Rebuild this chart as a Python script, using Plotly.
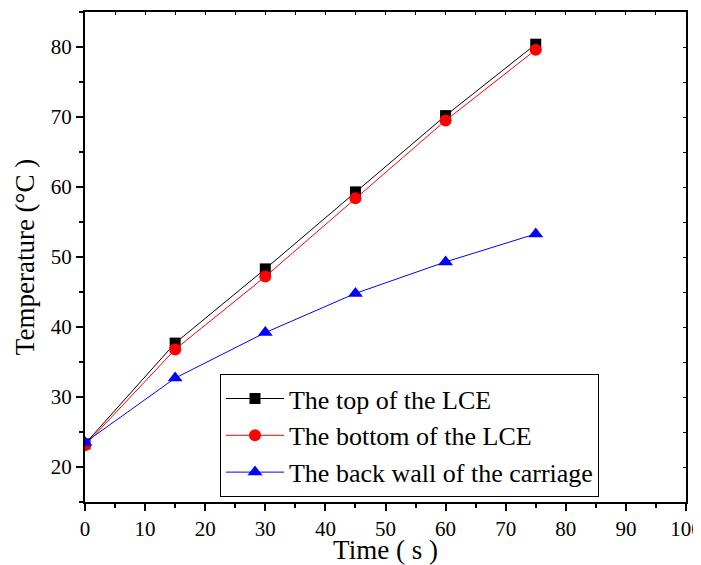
import plotly.graph_objects as go

time_s = [0, 15, 30, 45, 60, 75]
top_lce = [23.3, 37.7, 48.3, 59.3, 70.2, 80.4]
bottom_lce = [23.1, 36.8, 47.2, 58.4, 69.5, 79.6]
back_wall = [23.5, 32.7, 39.2, 44.8, 49.3, 53.3]
names = ["The top of the LCE", "The bottom of the LCE", "The back wall of the carriage"]

FONT = "Liberation Serif"

fig = go.Figure()
fig.add_trace(go.Scatter(x=time_s, y=top_lce, name=names[0], mode="lines+markers",
                         line=dict(color="black", width=1),
                         marker=dict(symbol="square", size=11, color="black")))
fig.add_trace(go.Scatter(x=time_s, y=bottom_lce, name=names[1], mode="lines+markers",
                         line=dict(color="red", width=1),
                         marker=dict(symbol="circle", size=12, color="red")))
fig.add_trace(go.Scatter(x=time_s, y=back_wall, name=names[2], mode="lines+markers",
                         line=dict(color="blue", width=1),
                         marker=dict(symbol="triangle-up", size=13, color="blue")))
fig.add_trace(go.Scatter(x=[None], y=[None], xaxis="x2", yaxis="y2", showlegend=False, hoverinfo="skip"))

# page body has an 8px margin, so the figure is sized to fill the rest of the window
fig.update_layout(
    width=693, height=557,
    margin=dict(l=77, r=15, t=4, b=63, autoexpand=False),
    paper_bgcolor="white", plot_bgcolor="white",
    font=dict(family=FONT, color="black", size=21),
    legend=dict(x=0.2246, y=0.261, xanchor="left", yanchor="top",
                bgcolor="white", bordercolor="black", borderwidth=1,
                font=dict(family=FONT, size=26, color="black"),
                tracegroupgap=0, itemwidth=58),
    showlegend=True,
    xaxis=dict(
        range=[0, 100], tick0=0, dtick=10, automargin=False, ticklabeloverflow="allow",
        showgrid=False, zeroline=False, showline=True, linecolor="black", linewidth=2,
        ticks="outside", ticklen=7, tickwidth=2, tickcolor="black",
        tickfont=dict(family=FONT, size=21, color="black"),
        minor=dict(dtick=5, ticks="outside", ticklen=4, tickwidth=2, tickcolor="black"),
        title=dict(text="Time ( s )", font=dict(family=FONT, size=27, color="black"), standoff=3),
    ),
    yaxis=dict(
        range=[15, 85], tick0=0, dtick=10, automargin=False,
        showgrid=False, zeroline=False, showline=True, linecolor="black", linewidth=2,
        ticks="outside", ticklen=7, tickwidth=2, tickcolor="black",
        tickfont=dict(family=FONT, size=21, color="black"),
        minor=dict(dtick=5, ticks="outside", ticklen=4, tickwidth=2, tickcolor="black"),
        title=dict(text="Temperature (°C )", font=dict(family=FONT, size=27, color="black"), standoff=8),
    ),
    xaxis2=dict(range=[0, 100], overlaying="x", side="top", showgrid=False, zeroline=False,
                showline=True, linecolor="black", linewidth=2, ticks="inside", ticklen=3,
                tickwidth=1, tickcolor="black", tick0=0, dtick=5, showticklabels=False,
                automargin=False),
    yaxis2=dict(range=[15, 85], overlaying="y", side="right", showgrid=False, zeroline=False,
                showline=True, linecolor="black", linewidth=2, ticks="inside", ticklen=3,
                tickwidth=1, tickcolor="black", dtick=5, tick0=0, showticklabels=False,
                automargin=False),
)

fig.write_html("out.html")
